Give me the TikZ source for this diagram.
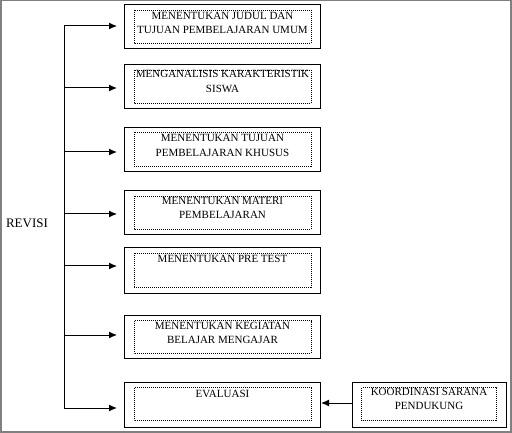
\documentclass[tikz,border=0pt]{standalone}
\usepackage{fontspec}
\setmainfont{Liberation Serif}
\usepackage{tikz}
\usetikzlibrary{arrows.meta}

\begin{document}
\begin{tikzpicture}[x=1pt, y=-1pt,
    box/.style={draw, line width=1pt, minimum width=196pt, minimum height=44pt, inner sep=0pt},
    dotbox/.style={line width=0.6pt, dash pattern=on 1pt off 1pt},
    txt/.style={anchor=north, inner sep=0pt, align=center, font=\fontsize{11}{14.5}\selectfont},
    arr/.style={-{Latex[length=8pt,width=7pt]}, line width=1pt}]

    % Frame of the figure
    \useasboundingbox (0,0) rectangle (512,433);
    \draw[gray, line width=1.5pt] (0.75,0.75) rectangle (510.75,431.75);

    % Outer boxes
    \node[box] (b1) at (222.5, 27) {};
    \node[box] (b2) at (222.5, 87) {};
    \node[box] (b3) at (222.5, 150) {};
    \node[box] (b4) at (222.5, 213) {};
    \node[box, minimum height=45pt] (b5) at (222.5, 270.5) {};
    \node[box, minimum height=43pt] (b6) at (222.5, 336.5) {};
    \node[box, minimum height=45pt] (b7) at (222.5, 404.5) {};
    \node[box, minimum width=154pt, minimum height=45pt] (b8) at (429, 404.5) {};

    % Inner dotted boxes
    \draw[dotbox] ([shift={(10,6)}]b1.north west) rectangle ([shift={(-10,-6)}]b1.south east);
    \draw[dotbox] ([shift={(10,6)}]b2.north west) rectangle ([shift={(-10,-6)}]b2.south east);
    \draw[dotbox] ([shift={(10,5)}]b3.north west) rectangle ([shift={(-10,-6)}]b3.south east);
    \draw[dotbox] ([shift={(10,6)}]b4.north west) rectangle ([shift={(-10,-6)}]b4.south east);
    \draw[dotbox] ([shift={(10,6)}]b5.north west) rectangle ([shift={(-10,-6)}]b5.south east);
    \draw[dotbox] ([shift={(10,6)}]b6.north west) rectangle ([shift={(-10,-5)}]b6.south east);
    \draw[dotbox] ([shift={(10,6)}]b7.north west) rectangle ([shift={(-10,-7)}]b7.south east);
    \draw[dotbox] ([shift={(10,6)}]b8.north west) rectangle ([shift={(-10,-7)}]b8.south east);

    % Labels
    \node[txt] (t1) at ([yshift=-7.5pt]b1.north) {MENENTUKAN JUDUL DAN\\TUJUAN PEMBELAJARAN UMUM};
    \node[txt] (t2) at ([yshift=-6pt]b2.north) {MENGANALISIS KARAKTERISTIK\\SISWA};
    \node[txt] (t3) at ([yshift=-7pt]b3.north) {MENENTUKAN TUJUAN\\PEMBELAJARAN KHUSUS};
    \node[txt] (t4) at ([yshift=-6.5pt]b4.north) {MENENTUKAN MATERI\\PEMBELAJARAN};
    \node[txt] (t5) at ([yshift=-8pt]b5.north) {MENENTUKAN PRE TEST};
    \node[txt] (t6) at ([yshift=-7.5pt]b6.north) {MENENTUKAN KEGIATAN\\BELAJAR MENGAJAR};
    \node[txt] (t7) at ([yshift=-8.5pt]b7.north) {EVALUASI};
    \node[txt] (t8) at ([yshift=-6.5pt]b8.north) {KOORDINASI SARANA\\PENDUKUNG};

    \node[font=\fontsize{13}{15}\selectfont, inner sep=0pt] (revisi) at (27, 223) {REVISI};

    % Revision line and arrows
    \coordinate (s1) at (64, 26);
    \coordinate (s2) at (64, 88);
    \coordinate (s3) at (64, 152);
    \coordinate (s4) at (64, 214);
    \coordinate (s5) at (64, 266);
    \coordinate (s6) at (64, 335);
    \coordinate (s7) at (64, 408);
    \draw[line width=1pt] (s1) -- (s7);
    \draw[arr, shorten >=7pt] (s1) -- (s1 -| b1.west);
    \draw[arr, shorten >=7pt] (s2) -- (s2 -| b2.west);
    \draw[arr, shorten >=7pt] (s3) -- (s3 -| b3.west);
    \draw[arr, shorten >=7pt] (s4) -- (s4 -| b4.west);
    \draw[arr, shorten >=7pt] (s5) -- (s5 -| b5.west);
    \draw[arr, shorten >=7pt] (s6) -- (s6 -| b6.west);
    \draw[arr, shorten >=7pt] (s7) -- (s7 -| b7.west);

    % Support to evaluation
    \draw[arr] ([yshift=1.5pt]b8.west) -- ([yshift=1.5pt]b7.east);
\end{tikzpicture}
\end{document}
